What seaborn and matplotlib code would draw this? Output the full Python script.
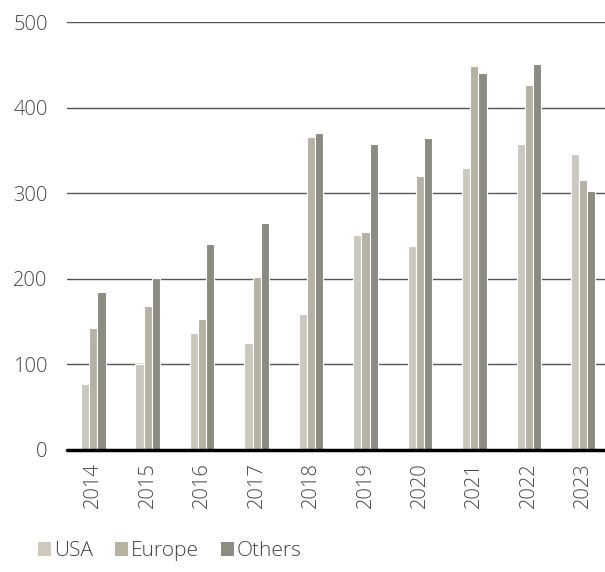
import matplotlib
matplotlib.use("Agg")
import matplotlib.pyplot as plt
from matplotlib.patches import Patch
import seaborn as sns
import pandas as pd

years = ["2014", "2015", "2016", "2017", "2018", "2019", "2020", "2021", "2022", "2023"]
usa = [77, 100, 137, 125, 159, 251, 238, 329, 358, 346]
europe = [142, 168, 153, 202, 366, 255, 320, 449, 426, 316]
others = [184, 201, 241, 265, 370, 358, 365, 441, 451, 303]
series = ["USA", "Europe", "Others"]
colors = ["#cdcabd", "#b8b2a1", "#8c8c82"]
yticks = [0, 100, 200, 300, 400, 500]

df = pd.DataFrame({
    "year": years * 3,
    "value": usa + europe + others,
    "region": [s for s in series for _ in years],
})

sns.set_style("white")
plt.rcParams["font.family"] = ["Open Sans", "DejaVu Sans"]
plt.rcParams["font.weight"] = "light"

fig = plt.figure(figsize=(6.05, 5.72), dpi=100)
ax = fig.add_axes([0.111, 0.2133, 0.889, 0.7482])

sns.barplot(data=df, x="year", y="value", hue="region", order=years,
            hue_order=series, palette=colors, width=0.45, ax=ax,
            edgecolor="white", linewidth=0.8, legend=False)

ax.set_ylim(0, 500)
ax.set_xlim(-0.48, 9.4)
ax.set_yticks(yticks)
ax.set_yticklabels([str(v) for v in yticks])
for v in yticks[1:]:
    ax.axhline(v, color="#555555", linewidth=1.0, zorder=0)
ax.axhline(0, color="black", linewidth=2.5, zorder=5, clip_on=False)
for s in ax.spines.values():
    s.set_visible(False)
ax.tick_params(axis="y", length=0, pad=14, labelsize=14.5, labelcolor="#444444")
ax.tick_params(axis="x", length=0, pad=9, labelsize=14.5, labelcolor="#444444",
               labelrotation=90)
ax.set_xlabel("")
ax.set_ylabel("")

handles = [Patch(facecolor=c, edgecolor="none", label=s) for s, c in zip(series, colors)]
fig.legend(handles=handles, loc="lower left", bbox_to_anchor=(0.032, -0.014), ncol=3,
           frameon=False, fontsize=15, handlelength=0.62, handleheight=0.62,
           handletextpad=0.15, columnspacing=1.05, labelcolor="#444444")

fig.savefig("out.png", dpi=100)
